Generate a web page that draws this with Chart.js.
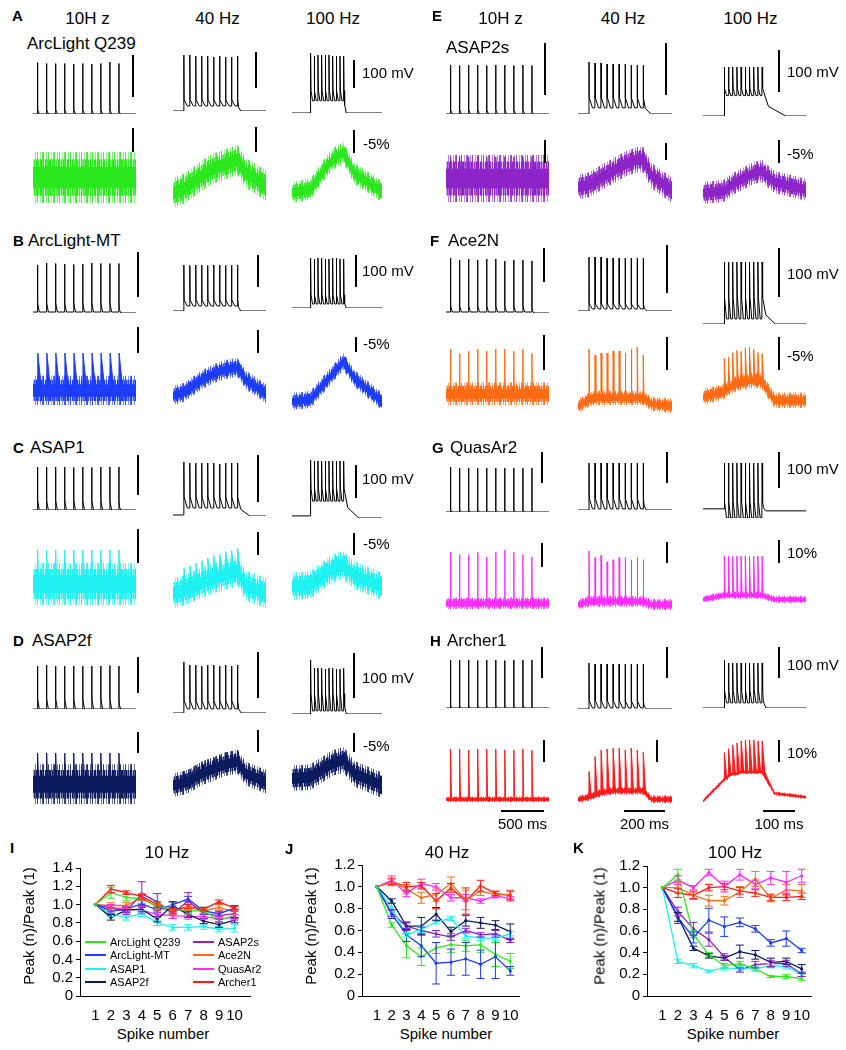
<!DOCTYPE html>
<html>
<head>
<meta charset="utf-8">
<script src="https://cdn.jsdelivr.net/npm/chart.js@4.4.1/dist/chart.umd.min.js"></script>
<style>
  html, body { margin: 0; padding: 0; background: #fff; }
  #fig { position: relative; width: 846px; height: 1050px; overflow: hidden; background: #fff;
         font-family: 'Liberation Sans', Arial, sans-serif; color: #000; }
  #fig canvas { position: absolute; }
  .t { position: absolute; white-space: nowrap; line-height: 1; }
  .bar { position: absolute; background: #000; }
  .key { position: absolute; height: 2px; }
</style>
</head>
<body>
<div id="fig"></div>
<script>
// ---- indicators / stimulation ----
const indicators = ['ArcLight Q239', 'ArcLight-MT', 'ASAP1', 'ASAP2f', 'ASAP2s', 'Ace2N', 'QuasAr2', 'Archer1'];
const panelLetters = ['A', 'B', 'C', 'D', 'E', 'F', 'G', 'H'];
const colors = ['#2be81e', '#1c3cf5', '#1ff0f0', '#0c1a5e', '#8c24c8', '#ff6a13', '#ff2cff', '#ff1a1a'];
const stimHz = [10, 40, 100];
const stimLabels = ['10H z', '40 Hz', '100 Hz'];
const recStart = [-50, -45, -50];   // ms, relative to first spike
const recEnd = [1090, 345, 195];
const postTimes = [960, 260, 120];

// ---- membrane potential (mV above rest) ----
const vPeak10 = [
  [100, 98, 98, 98, 97, 98, 97, 98, 101, 98],
  [96, 100, 99, 98, 97, 98, 100, 99, 99, 99],
  [84, 84, 84, 84, 83, 84, 83, 84, 84, 84],
  [86, 88, 86, 86, 86, 86, 86, 86, 87, 86],
  [96, 95, 96, 96, 95, 96, 96, 95, 96, 95],
  [108, 104, 106, 104, 106, 106, 102, 104, 104, 102],
  [86, 84, 84, 84, 84, 84, 84, 84, 84, 84],
  [94, 94, 94, 93, 94, 94, 93, 94, 94, 94]
];
const vPeak40 = [
  [110, 110, 108, 108, 108, 106, 108, 106, 106, 108],
  [92, 91, 92, 92, 91, 92, 92, 91, 92, 92],
  [106, 104, 104, 104, 104, 104, 102, 104, 104, 104],
  [100, 94, 94, 92, 94, 94, 92, 94, 92, 94],
  [102, 100, 100, 98, 98, 98, 98, 96, 96, 96],
  [106, 106, 106, 104, 104, 104, 104, 104, 104, 104],
  [90, 90, 90, 90, 90, 90, 90, 90, 90, 90],
  [90, 88, 88, 88, 88, 88, 88, 88, 88, 88]
];
const vPeak100 = [
  [118, 112, 114, 114, 114, 114, 112, 112, 112, 112],
  [100, 98, 100, 100, 98, 98, 100, 100, 98, 98],
  [106, 104, 104, 104, 104, 104, 104, 104, 104, 104],
  [106, 90, 90, 90, 88, 90, 90, 88, 88, 90],
  [96, 96, 96, 96, 96, 96, 96, 96, 96, 96],
  [122, 122, 122, 122, 122, 122, 122, 122, 122, 122],
  [90, 90, 90, 90, 90, 90, 90, 90, 90, 90],
  [94, 88, 88, 88, 88, 88, 88, 88, 88, 88]
];
const vAdp = [[8, 22, 44], [18, 22, 26], [18, 36, 52], [20, 24, 40], [8, 32, 54], [12, 14, 52], [4, 22, 14], [4, 16, 34]];
const vPre = [[0, 10, 24], [0, 10, 8], [0, 14, 28], [0, 8, 6], [0, 12, 40], [0, 4, 10], [0, 2, -18], [0, 2, 10]];
const vEnd = [[0, 0, 0], [-2, 0, 0], [0, -2, -4], [0, 0, 0], [0, 0, 0], [-2, 0, 0], [0, 0, -4], [0, 0, 0]];
const vTail = [[20, 12, 6], [20, 12, 6], [20, 50, 40], [20, 14, 6], [20, 30, 55], [20, 14, 30], [20, 12, 8], [20, 12, 8]];

// ---- fluorescence (%) ----
const fNoise = [[3.6, 2.8, 2.0], [2.2, 1.8, 1.6], [3.2, 2.4, 2.0], [2.8, 2.0, 2.2], [2.6, 2.2, 2.0], [2.0, 1.4, 1.4], [2.0, 2.0, 1.4], [1.0, 1.4, 0.8]];
const fRise = [3, 3, 1, 1, 1, 0.6, 0.6, 0.8];
const fDecay = [30, 45, 12, 12, 12, 4, 3, 10];
const fBase10 = [0, 0, 0, 0, 0, 0, 0, 0];
const fBase40 = [
  [0.8, 1.6, 2.4, 3.2, 4.0, 4.6, 5.0, 5.4, 5.8, 6.2],
  [0.6, 1.4, 2.2, 3.0, 3.6, 4.2, 4.6, 5.0, 5.2, 5.4],
  [0.4, 0.8, 1.2, 1.6, 2.0, 2.4, 2.6, 3.0, 3.2, 3.6],
  [0.4, 0.8, 1.4, 2.0, 2.4, 2.8, 3.2, 3.6, 3.8, 4.0],
  [0.4, 1.0, 1.6, 2.2, 2.8, 3.4, 4.0, 4.4, 4.8, 4.8],
  [1.2, 1.6, 1.6, 1.6, 1.6, 1.6, 1.6, 1.6, 1.6, 1.6],
  [1.2, 1.2, 1.2, 1.2, 1.2, 1.2, 1.2, 1.2, 1.2, 1.2],
  [0.8, 1.6, 2.4, 2.8, 3.2, 3.2, 3.2, 3.2, 3.2, 3.2]
];
const fBase100 = [
  [0.6, 1.6, 2.6, 3.6, 4.6, 5.4, 6.2, 6.8, 7.2, 7.6],
  [0.4, 1.2, 2.0, 2.8, 3.6, 4.4, 5.2, 6.0, 6.8, 7.6],
  [0.2, 0.6, 1.0, 1.4, 1.8, 2.2, 2.4, 2.8, 3.0, 3.0],
  [0.2, 0.6, 1.0, 1.4, 1.8, 2.2, 2.6, 2.8, 3.0, 3.2],
  [0.4, 1.0, 1.6, 2.0, 2.4, 2.8, 3.2, 3.6, 3.8, 4.0],
  [1.0, 1.6, 2.0, 2.4, 2.6, 2.8, 3.0, 3.0, 3.0, 2.8],
  [1.6, 1.6, 1.6, 1.6, 1.6, 1.6, 1.6, 1.6, 1.6, 1.6],
  [8.8, 10.4, 11.2, 11.2, 12, 12, 12, 12, 12, 12]
];
const fPost10 = [[0, 0], [0, 0], [0, 0], [0, 0], [0, 0], [0, 0], [0, 0], [0, 0]];
const fPost40 = [[3.8, 1.4], [3.0, 0.4], [1.2, 0], [2.0, 0.6], [2.0, -0.6], [0.4, 0], [0, 0], [0, 0]];
const fPost100 = [[3.6, 0.2], [4.4, 0], [1.6, 0], [0.8, -1.2], [2.0, 0.6], [-0.6, -0.6], [0, 0], [3.2, 1.6]];
const fPeak10 = [1.6, 5.6, 5.2, 4.4, 2.4,
  [8.0, 7.2, 7.6, 8.0, 7.6, 8.0, 8.0, 7.6, 8.0, 7.2],
  [17.6, 16.8, 16.8, 17.6, 16, 17.6, 18.4, 17.6, 16.8, 16],
  [18.4, 18.4, 18, 18.4, 18.4, 18.4, 18, 18, 18.4, 18]];
const fPeak40 = [1.2, 1.2, 3.6, 2.0, 1.6,
  [10, 8.4, 8.8, 8.8, 9.2, 9.2, 8.8, 9.6, 10, 8.4],
  [18.4, 16, 16.8, 14.4, 15.2, 16, 16, 15.2, 16, 15.2],
  [9.6, 14.4, 16, 16, 16, 16, 15.2, 16, 15.2, 14.4]];
const fPeak100 = [0.8, 0.8, 1.6, 1.2, 1.0,
  [6.0, 5.6, 6.0, 6.0, 5.6, 6.0, 6.0, 5.6, 5.0, 5.0],
  15,
  [11.2, 11.2, 12, 12.8, 12.8, 13.2, 13.2, 13.2, 12.8, 12.8]];

// ---- Peak(n)/Peak(1) summary ----
const spikeNumbers = [1, 2, 3, 4, 5, 6, 7, 8, 9, 10];
const yTicksI = [0, 0.2, 0.4, 0.6, 0.8, 1, 1.2, 1.4];
const yTicksJK = [0, 0.2, 0.4, 0.6, 0.8, 1, 1.2];
const peak10 = [
  [1, 1.13, 1.08, 1.06, 0.98, 0.95, 0.93, 0.93, 0.83, 0.88],
  [1, 0.93, 0.95, 1.01, 0.94, 1.0, 1.06, 0.93, 0.9, 0.96],
  [1, 0.9, 0.86, 0.9, 0.8, 0.75, 0.75, 0.76, 0.73, 0.74],
  [1, 0.86, 0.94, 0.95, 0.84, 0.99, 0.89, 0.82, 0.78, 0.83],
  [1, 0.96, 0.93, 1.12, 1.03, 0.9, 1.04, 0.9, 0.88, 0.9],
  [1, 0.99, 0.99, 1.08, 0.97, 0.92, 0.97, 0.93, 0.97, 0.92],
  [1, 0.97, 0.95, 0.94, 0.89, 0.88, 0.87, 0.87, 0.84, 0.86],
  [1, 1.17, 1.13, 1.09, 1.0, 0.93, 0.98, 0.95, 1.03, 0.96]
];
const err10 = [
  [0, 0.06, 0.04, 0.05, 0.04, 0.04, 0.04, 0.04, 0.03, 0.04],
  [0, 0.03, 0.03, 0.04, 0.03, 0.03, 0.03, 0.04, 0.03, 0.03],
  [0, 0.03, 0.03, 0.03, 0.03, 0.03, 0.03, 0.03, 0.03, 0.04],
  [0, 0.03, 0.03, 0.03, 0.03, 0.04, 0.03, 0.03, 0.03, 0.03],
  [0, 0.04, 0.04, 0.13, 0.09, 0.05, 0.09, 0.05, 0.04, 0.05],
  [0, 0.03, 0.03, 0.04, 0.03, 0.03, 0.03, 0.03, 0.03, 0.03],
  [0, 0.03, 0.03, 0.04, 0.03, 0.03, 0.03, 0.03, 0.03, 0.03],
  [0, 0.04, 0.02, 0.02, 0.03, 0.03, 0.02, 0.02, 0.02, 0.02]
];
const peak40 = [
  [1, 0.65, 0.46, 0.36, 0.44, 0.47, 0.46, 0.47, 0.38, 0.32],
  [1, 0.75, 0.56, 0.46, 0.3, 0.31, 0.34, 0.29, 0.36, 0.23],
  [1, 0.81, 0.56, 0.61, 0.68, 0.71, 0.55, 0.53, 0.53, 0.57],
  [1, 0.87, 0.64, 0.64, 0.75, 0.59, 0.69, 0.67, 0.65, 0.59],
  [1, 0.76, 0.64, 0.6, 0.57, 0.54, 0.6, 0.56, 0.57, 0.51],
  [1, 1.04, 0.98, 0.9, 0.93, 1.03, 0.88, 0.96, 0.93, 0.93],
  [1, 1.06, 0.94, 1.03, 1.0, 0.9, 0.9, 0.87, 0.92, 0.89],
  [1, 1.05, 1.0, 1.01, 0.87, 0.99, 0.87, 1.01, 0.94, 0.92]
];
const err40 = [
  [0, 0.02, 0.11, 0.08, 0.05, 0.07, 0.05, 0.07, 0.11, 0.07],
  [0, 0.04, 0.06, 0.1, 0.19, 0.12, 0.15, 0.13, 0.2, 0.04],
  [0, 0.04, 0.02, 0.03, 0.02, 0.02, 0.02, 0.02, 0.02, 0.02],
  [0, 0.02, 0.03, 0.08, 0.06, 0.04, 0.05, 0.05, 0.04, 0.07],
  [0, 0.03, 0.04, 0.03, 0.03, 0.03, 0.02, 0.02, 0.03, 0.02],
  [0, 0.03, 0.04, 0.05, 0.06, 0.06, 0.09, 0.04, 0.03, 0.04],
  [0, 0.04, 0.03, 0.04, 0.03, 0.03, 0.03, 0.02, 0.02, 0.02],
  [0, 0.03, 0.04, 0.03, 0.07, 0.04, 0.12, 0.05, 0.02, 0.04]
];
const peak100 = [
  [1, 1.12, 0.57, 0.38, 0.28, 0.3, 0.25, 0.18, 0.18, 0.16],
  [1, 0.72, 0.54, 0.7, 0.64, 0.68, 0.62, 0.49, 0.53, 0.42],
  [1, 0.32, 0.28, 0.23, 0.26, 0.25, 0.25, 0.28, 0.27, 0.2],
  [1, 0.73, 0.44, 0.37, 0.35, 0.41, 0.38, 0.31, 0.32, 0.25],
  [1, 0.78, 0.62, 0.52, 0.36, 0.24, 0.29, 0.3, 0.3, 0.2],
  [1, 1.0, 0.93, 0.88, 0.88, 0.96, 1.08, 0.9, 0.98, 0.97],
  [1, 1.07, 1.0, 1.14, 1.01, 1.12, 1.03, 1.09, 1.05, 1.11],
  [1, 0.95, 0.93, 1.0, 1.01, 0.97, 0.95, 0.91, 0.91, 0.92]
];
const err100 = [
  [0, 0.05, 0.03, 0.02, 0.02, 0.02, 0.02, 0.01, 0.02, 0.02],
  [0, 0.05, 0.05, 0.11, 0.09, 0.04, 0.03, 0.03, 0.07, 0.02],
  [0, 0.02, 0.02, 0.01, 0.02, 0.02, 0.02, 0.02, 0.02, 0.02],
  [0, 0.04, 0.02, 0.02, 0.02, 0.06, 0.04, 0.04, 0.03, 0.04],
  [0, 0.04, 0.06, 0.06, 0.03, 0.02, 0.03, 0.03, 0.03, 0.02],
  [0, 0.05, 0.04, 0.05, 0.04, 0.05, 0.07, 0.03, 0.05, 0.06],
  [0, 0.04, 0.02, 0.03, 0.05, 0.05, 0.04, 0.06, 0.1, 0.06],
  [0, 0.04, 0.03, 0.03, 0.03, 0.03, 0.03, 0.03, 0.03, 0.03]
];

// ---- layout (page pixels) ----
const colX = [[[33, 136], [173, 266], [292, 382]], [[446, 549], [578, 672], [703, 806]]];
const vBox = [
  [[62, 114], [55, 111], [53, 113]], [[263, 313], [265, 311], [258, 308]],
  [[467, 510], [462, 516], [460, 518]], [[665, 709], [662, 713], [660, 714]],
  [[65, 114], [62, 114], [67, 116]], [[258, 313], [257, 311], [262, 324]],
  [[467, 512], [463, 510], [463, 518]], [[660, 708], [663, 709], [660, 708]]
];
const fBox = [
  [[152, 203], [145, 208], [142, 203]], [[353, 405], [358, 405], [353, 410]],
  [[550, 605], [548, 608], [552, 600]], [[753, 804], [750, 797], [747, 798]],
  [[155, 202], [147, 203], [160, 204]], [[349, 405], [347, 413], [347, 408]],
  [[550, 609], [551, 610], [556, 603]], [[749, 802], [748, 803], [740, 803]]
];
const barV = [
  [[133, 55, 97], [256, 52, 88], [354, 60, 88]], [[138, 252, 297], [258, 255, 287], [356, 255, 287]],
  [[138, 455, 495], [258, 455, 502], [356, 465, 498]], [[138, 657, 693], [258, 652, 698], [354, 653, 698]],
  [[545, 43, 95], [666, 43, 95], [779, 50, 92]], [[544, 248, 282], [667, 245, 293], [779, 248, 297]],
  [[542, 452, 483], [667, 452, 483], [779, 452, 488]], [[542, 647, 678], [667, 647, 678], [779, 647, 678]]
];
const barF = [
  [[133, 128, 152], [256, 127, 152], [354, 130, 153]], [[138, 327, 353], [258, 330, 353], [356, 337, 352]],
  [[138, 529, 563], [258, 532, 555], [354, 533, 555]], [[138, 732, 753], [258, 730, 752], [354, 733, 752]],
  [[545, 140, 163], [666, 143, 160], [779, 140, 163]], [[544, 335, 370], [667, 337, 370], [779, 337, 370]],
  [[542, 543, 567], [667, 542, 563], [779, 540, 563]], [[544, 740, 762], [657, 740, 762], [779, 740, 762]]
];
const letterPos = [[12, 15], [13, 240], [13, 447], [13, 640], [432, 15], [430, 240], [432, 447], [430, 640]];
const namePos = [[27, 43], [28, 240], [30, 447], [32, 640], [446, 47], [448, 240], [450, 447], [447, 640]];
const mvLabelY = [72, 270, 478, 677, 71, 273, 468, 664];
const fLabelY = [143, 343, 543, 745, 153, 355, 552, 752];

const fig = document.getElementById('fig');
Chart.defaults.font.family = "'Liberation Sans', Arial, sans-serif";
Chart.defaults.color = '#000';

function label(text, x, y, size, center, bold) {
  const d = document.createElement('div');
  d.className = 't';
  d.textContent = text;
  d.style.left = x + 'px';
  d.style.top = y + 'px';
  d.style.fontSize = size + 'px';
  if (bold) d.style.fontWeight = 'bold';
  d.style.transform = center ? 'translate(-50%,-50%)' : 'translate(0,-50%)';
  fig.appendChild(d);
  return d;
}
function bar(x, y, w, h) {
  const d = document.createElement('div');
  d.className = 'bar';
  d.style.left = x + 'px'; d.style.top = y + 'px';
  d.style.width = w + 'px'; d.style.height = h + 'px';
  fig.appendChild(d);
}
function canvasAt(x, y, w, h) {
  const c = document.createElement('canvas');
  c.width = w; c.height = h;
  c.style.left = x + 'px'; c.style.top = y + 'px';
  c.style.width = w + 'px'; c.style.height = h + 'px';
  fig.appendChild(c);
  return c;
}
// striped textures for the noisy outer parts of optical traces (two periods so edges look ragged)
function stripes(color, alphas) {
  const c = document.createElement('canvas');
  c.width = alphas.length; c.height = 1;
  const g = c.getContext('2d');
  alphas.forEach((a, i) => { g.globalAlpha = a; g.fillStyle = color; g.fillRect(i, 0, 1, 1); });
  return g.createPattern(c, 'repeat');
}
const outerAlpha = [0.9, 0, 0, 0.6, 0, 0.85, 0, 0, 0.5, 0, 0.75];
const midAlpha = [1, 0.35, 0.9, 0.2, 1, 0.55, 0.85, 0.4, 1];
const pick = (v, i) => Array.isArray(v) ? v[i] : v;

const vPeaks = [vPeak10, vPeak40, vPeak100];
const fBases = [fBase10, fBase40, fBase100];
const fPosts = [fPost10, fPost40, fPost100];
const fPeaks = [fPeak10, fPeak40, fPeak100];

function voltageSeries(k, c) {
  const T = 1000 / stimHz[c];
  const pk = vPeaks[c][k], adp = vAdp[k][c], pre = vPre[k][c], end = vEnd[k][c], tail = vTail[k][c];
  const pts = [{ x: recStart[c], y: 0 }];
  for (let i = 0; i < 10; i++) {
    const t = i * T;
    pts.push({ x: t, y: i === 0 ? 0 : pre });
    pts.push({ x: t + 0.6, y: pk[i] });
    pts.push({ x: t + 1.8, y: adp });
    if (i < 9) pts.push({ x: t + Math.min(0.6 * T, 20), y: pre });
  }
  const tLast = 9 * T;
  pts.push({ x: tLast + 1.8 + 0.25 * tail, y: end + 0.35 * (adp - end) });
  pts.push({ x: tLast + 1.8 + tail, y: end });
  pts.push({ x: recEnd[c], y: end });
  return pts;
}

function fluorSeries(k, c) {
  const T = 1000 / stimHz[c];
  const base = fBases[c][k], post = fPosts[c][k], pk = fPeaks[c][k];
  const noise = fNoise[k][c];
  const decay = Math.min(fDecay[k], 0.7 * T);
  const center = [{ x: recStart[c], y: 0 }];
  const trans = [{ x: recStart[c], y: 0 }];
  for (let i = 0; i < 10; i++) {
    const t = i * T, b = pick(base, i);
    center.push({ x: t, y: b });
    trans.push({ x: t, y: b }, { x: t + fRise[k], y: b + pick(pk, i) }, { x: t + decay, y: b });
  }
  const tail = [{ x: postTimes[c], y: post[0] }, { x: recEnd[c], y: post[1] }];
  center.push(...tail);
  trans.push(...tail);
  const shift = d => center.map(p => ({ x: p.x, y: p.y + d }));
  return {
    bands: [1, 0.72, 0.42].map(f => [shift(-noise * f), shift(noise * f)]),
    trans
  };
}

function traceChart(xr, yr, datasets, tRange) {
  const pad = 1;
  const cv = canvasAt(xr[0] - pad, yr[0] - pad, xr[1] - xr[0] + 2 * pad, yr[1] - yr[0] + 2 * pad);
  const ys = datasets.flatMap(d => d.data.map(p => p.y));
  return new Chart(cv, {
    type: 'line',
    data: { datasets },
    options: {
      responsive: false, animation: false, devicePixelRatio: 1, parsing: false, events: [],
      layout: { padding: pad },
      plugins: { legend: { display: false }, tooltip: { enabled: false } },
      elements: { point: { radius: 0 }, line: { tension: 0 } },
      scales: {
        x: { type: 'linear', display: false, min: tRange[0], max: tRange[1] },
        y: { type: 'linear', display: false, min: Math.min(...ys), max: Math.max(...ys) }
      }
    }
  });
}

const clear = 'rgba(0,0,0,0)';
indicators.forEach((name, k) => {
  const side = k < 4 ? 0 : 1;
  const fills = [stripes(colors[k], outerAlpha), stripes(colors[k], midAlpha), colors[k]];
  label(panelLetters[k], letterPos[k][0], letterPos[k][1], 15, false, true);
  label(name, namePos[k][0], namePos[k][1], 17);
  if (k % 4 === 0) {
    stimLabels.forEach((s, c) => {
      const cx = (colX[side][c][0] + colX[side][c][1]) / 2 + (c === 0 ? 3 : (c === 1 ? -2 : -4));
      label(s, cx, 18, 17, true);
    });
  }
  for (let c = 0; c < 3; c++) {
    const xr = colX[side][c];
    traceChart(xr, vBox[k][c], [{
      data: voltageSeries(k, c), borderColor: '#000', borderWidth: 1, fill: false
    }], [recStart[c], recEnd[c]]);
    const f = fluorSeries(k, c);
    const ds = [];
    f.bands.forEach((b, n) => {
      ds.push({ data: b[0], borderColor: clear, borderWidth: 0, fill: false });
      ds.push({ data: b[1], borderColor: clear, borderWidth: 0, fill: '-1', backgroundColor: fills[n] });
    });
    ds.push({ data: f.trans, borderColor: colors[k], borderWidth: 1, fill: '-2', backgroundColor: colors[k] });
    traceChart(xr, fBox[k][c], ds, [recStart[c], recEnd[c]]);
    const bv = barV[k][c], bf = barF[k][c];
    bar(bv[0] - 1, bv[1], 2, bv[2] - bv[1]);
    bar(bf[0] - 1, bf[1], 2, bf[2] - bf[1]);
  }
  label('100 mV', side ? 787 : 362, mvLabelY[k], 15);
  label(k >= 6 ? '10%' : '-5%', side ? 787 : 363, fLabelY[k], 15);
});

// time scale bars under Archer1
const timeBars = [[501, 544, '500 ms'], [624, 665, '200 ms'], [763, 795, '100 ms']];
timeBars.forEach(tb => {
  bar(tb[0], 810, tb[1] - tb[0], 2);
  label(tb[2], (tb[0] + tb[1]) / 2, 823, 15, true);
});

// ---- summary panels I, J, K ----
const errorBars = {
  id: 'errorBars',
  afterDatasetsDraw(chart) {
    const { ctx, scales: { x, y } } = chart;
    chart.data.datasets.forEach(ds => {
      ctx.save();
      ctx.strokeStyle = ds.borderColor;
      ctx.lineWidth = 1;
      ds.data.forEach((p, i) => {
        const e = ds.err[i];
        if (!e) return;
        const px = x.getPixelForValue(p.x);
        const y1 = y.getPixelForValue(p.y - e), y2 = y.getPixelForValue(p.y + e);
        ctx.beginPath();
        ctx.moveTo(px, y1); ctx.lineTo(px, y2);
        ctx.moveTo(px - 4, y1); ctx.lineTo(px + 4, y1);
        ctx.moveTo(px - 4, y2); ctx.lineTo(px + 4, y2);
        ctx.stroke();
      });
      ctx.restore();
    });
  }
};

const peakSets = [peak10, peak40, peak100];
const errSets = [err10, err40, err100];
const peakTitles = ['10 Hz', '40 Hz', '100 Hz'];
const peakYTicks = [yTicksI, yTicksJK, yTicksJK];
const summaryLetters = ['I', 'J', 'K'];
const peakLayout = [
  { left: 0, top: 856, w: 262, h: 164, padL: 16, padR: 12, xMax: 11, letter: [10, 847], title: 167, xt: 163, yt: 28 },
  { left: 280, top: 853, w: 250, h: 167, padL: 18, padR: 7, xMax: 10.6, letter: [285, 848], title: 447, xt: 446, yt: 310 },
  { left: 565, top: 854, w: 260, h: 166, padL: 18, padR: 14, xMax: 10.6, letter: [573, 847], title: 735, xt: 733, yt: 599 }
];

peakSets.forEach((set, j) => {
  const L = peakLayout[j];
  const cv = canvasAt(L.left, L.top, L.w, L.h);
  new Chart(cv, {
    type: 'line',
    data: {
      datasets: set.map((vals, k) => ({
        label: indicators[k],
        data: spikeNumbers.map((n, i) => ({ x: n, y: vals[i] })),
        err: errSets[j][k],
        borderColor: colors[k], backgroundColor: colors[k],
        borderWidth: 1.3, pointRadius: 1.6, pointBorderWidth: 0, fill: false
      }))
    },
    options: {
      responsive: false, animation: false, devicePixelRatio: 1, parsing: false, events: [],
      layout: { padding: { top: 10, left: L.padL, right: L.padR, bottom: 0 } },
      plugins: { legend: { display: false }, tooltip: { enabled: false } },
      elements: { line: { tension: 0 } },
      scales: {
        x: {
          type: 'linear', min: 0, max: L.xMax,
          afterBuildTicks: s => { s.ticks = spikeNumbers.map(v => ({ value: v })); },
          grid: { display: false, drawTicks: false },
          border: { display: true, color: '#000', width: 1 },
          ticks: { color: '#000', font: { size: 15 }, padding: 11, maxRotation: 0, autoSkip: false },
          afterFit: s => { s.height = 24; }
        },
        y: {
          type: 'linear', min: 0, max: peakYTicks[j][peakYTicks[j].length - 1],
          afterBuildTicks: s => { s.ticks = peakYTicks[j].map(v => ({ value: v })); },
          grid: { drawOnChartArea: false, drawTicks: true, tickLength: 4, color: '#000' },
          border: { display: true, color: '#000', width: 1 },
          ticks: { color: '#000', font: { size: 15 }, padding: 3, autoSkip: false },
          afterFit: s => { s.width = 64; }
        }
      }
    },
    plugins: [errorBars]
  });
  label(summaryLetters[j], L.letter[0], L.letter[1], 15, false, true);
  label(peakTitles[j], L.title, 852, 17, true);
  label('Spike number', L.xt, 1033, 15, true);
  const yt = label('Peak (n)/Peak (1)', L.yt, 926, 15, true);
  yt.style.transform = 'translate(-50%,-50%) rotate(-90deg)';
});

// legend inside panel I
indicators.forEach((name, k) => {
  const col = Math.floor(k / 4), row = k % 4;
  const y = [942, 955, 969, 982][row];
  const lx = col ? 193 : 85;
  const d = document.createElement('div');
  d.className = 'key';
  d.style.left = lx + 'px'; d.style.top = (y - 1) + 'px';
  d.style.width = '21px'; d.style.background = colors[k];
  fig.appendChild(d);
  label(name, lx + 25, y, 11);
});
</script>
</body>
</html>
